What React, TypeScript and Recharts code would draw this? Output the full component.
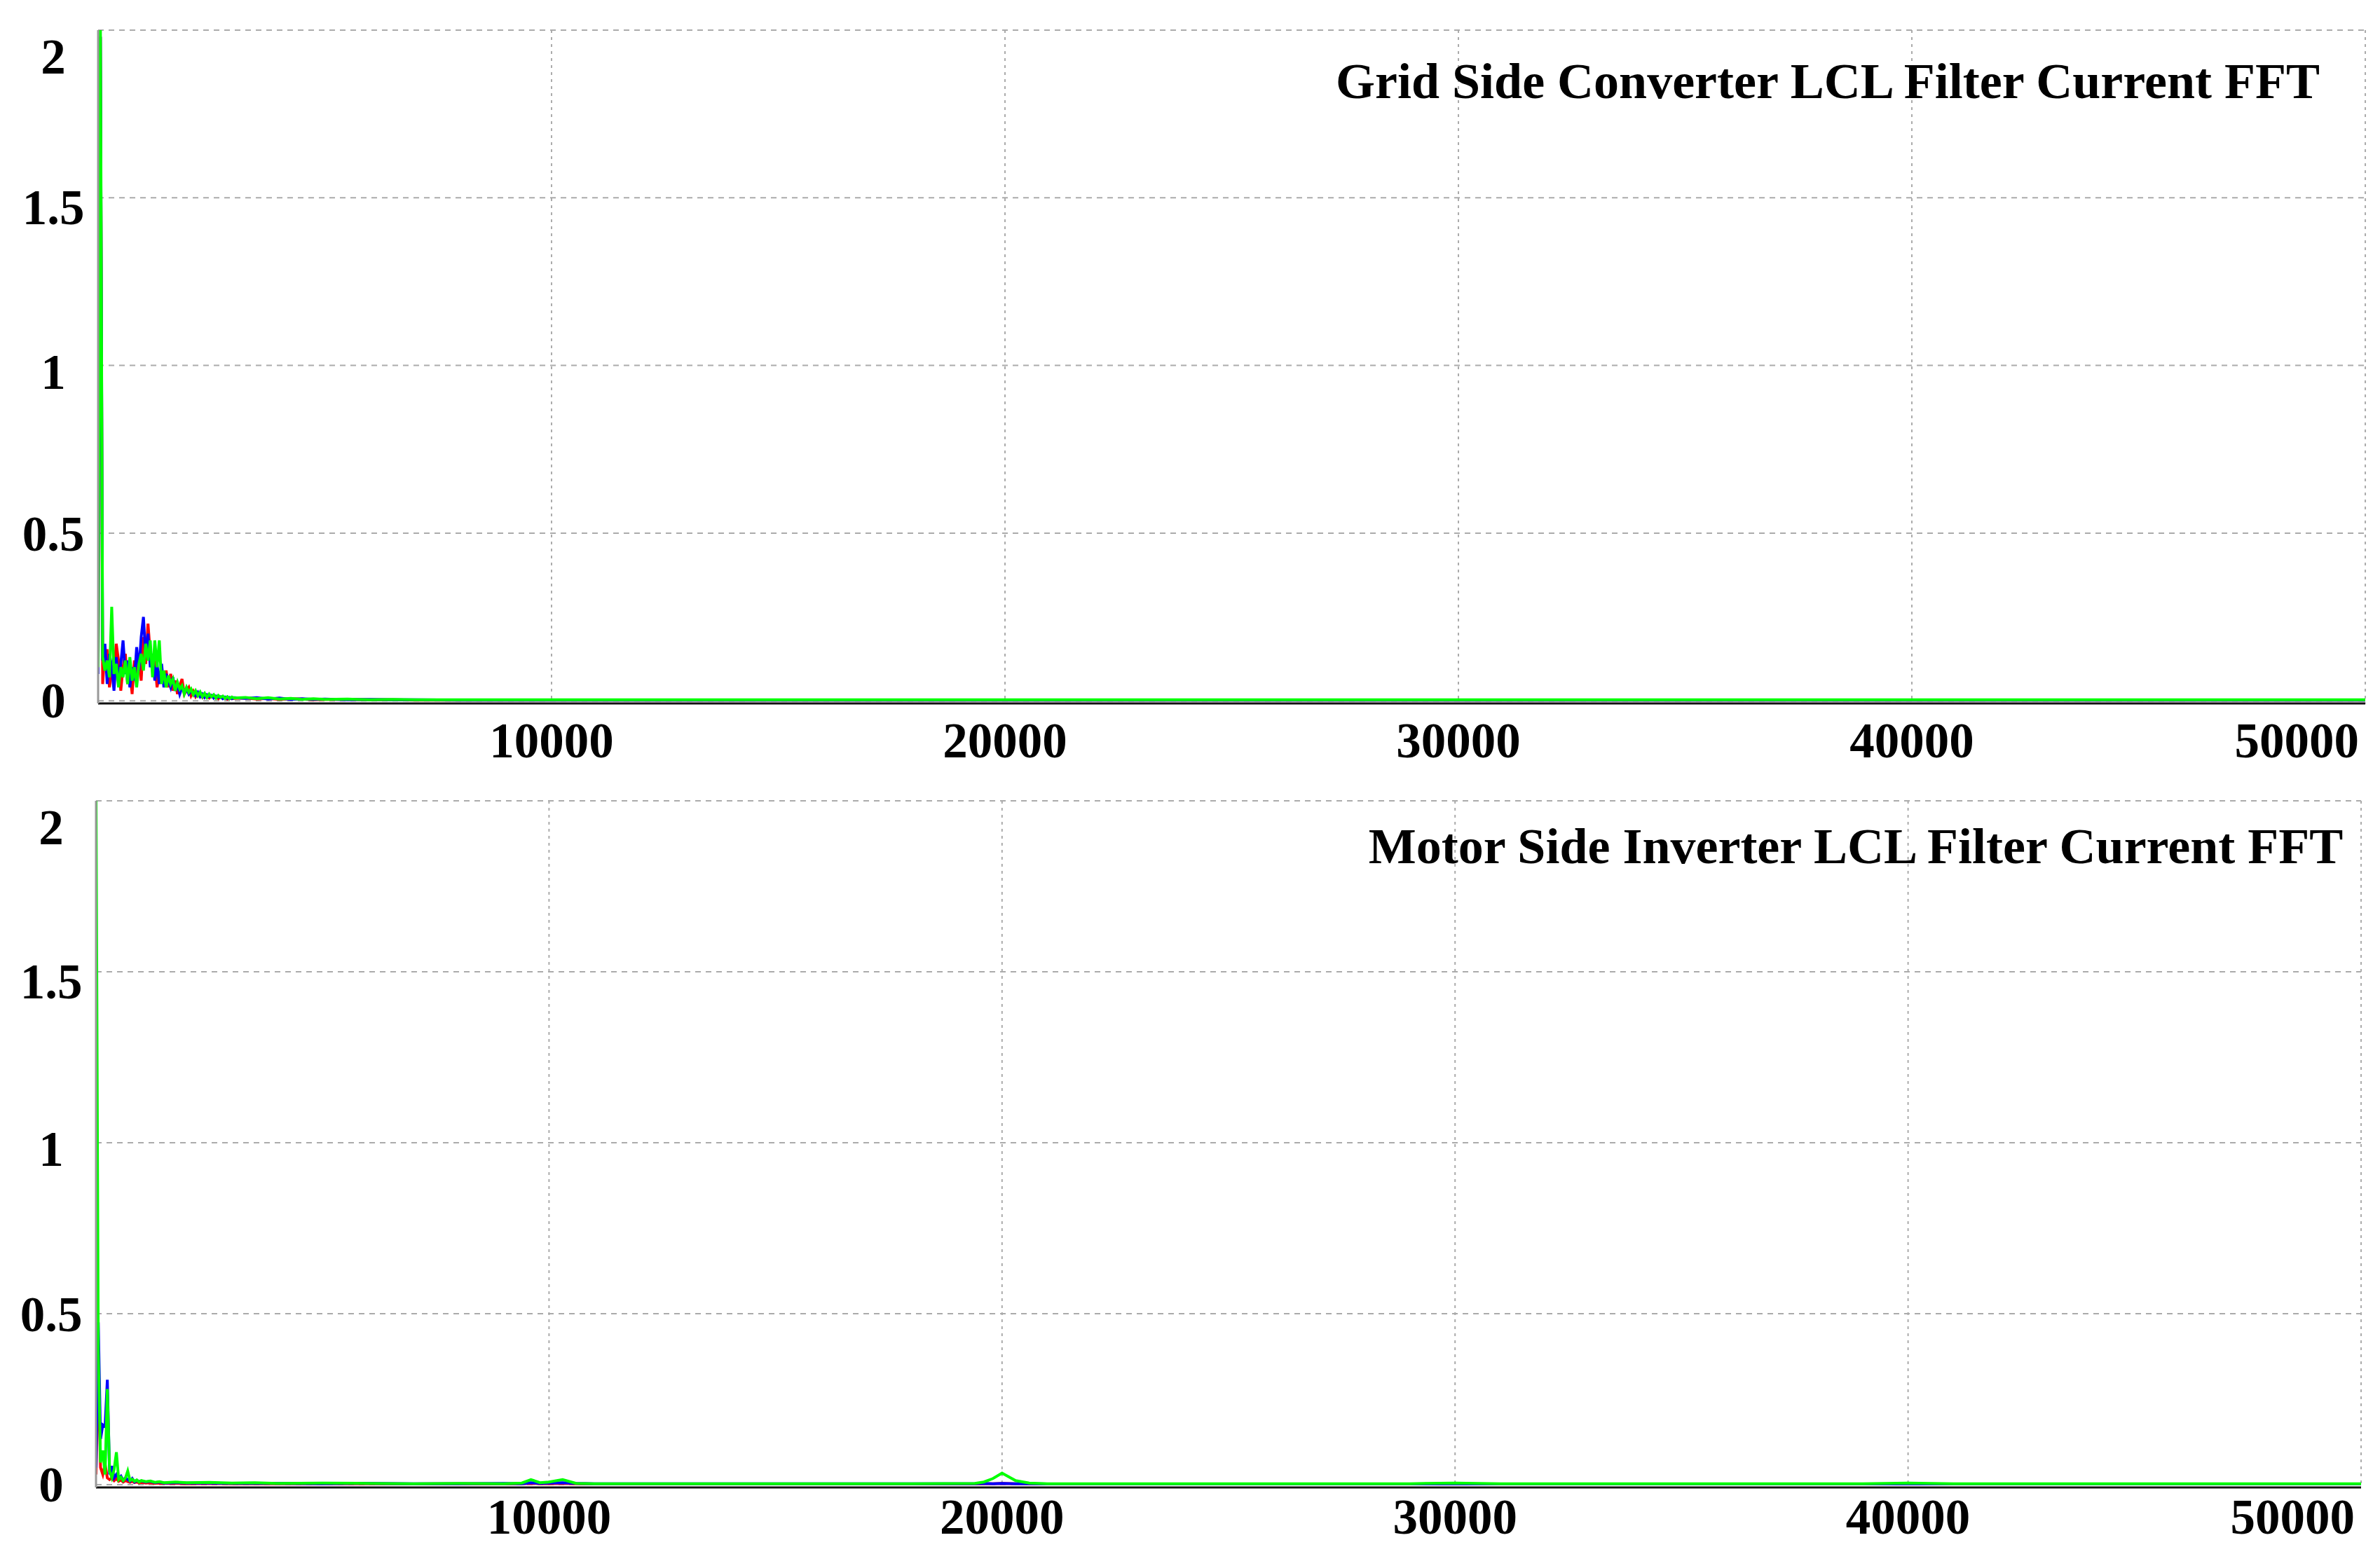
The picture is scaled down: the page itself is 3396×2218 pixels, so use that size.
import React from 'react';
import { LineChart, Line, XAxis, YAxis, CartesianGrid } from 'recharts';

// ---------- data ----------
const titles = [
  'Grid Side Converter LCL Filter Current FFT',
  'Motor Side Inverter LCL Filter Current FFT',
];

const xTicks = [10000, 20000, 30000, 40000, 50000];
const xTickLabels = ['10000', '20000', '30000', '40000', '50000'];
const yTicks = [0, 0.5, 1, 1.5, 2];
const yTickLabels = ['0', '0.5', '1', '1.5', '2'];

// Grid side converter (top panel)
const gridFreq = [
  0, 50, 100, 150, 200, 250, 300, 350, 400, 450,
  500, 550, 600, 650, 700, 750, 800, 850, 900, 950,
  1000, 1050, 1100, 1150, 1200, 1250, 1300, 1350, 1400, 1450,
  1500, 1550, 1600, 1650, 1700, 1750, 1800, 1850, 1900, 1950,
  2000, 2050, 2100, 2150, 2200, 2250, 2300, 2350, 2400, 2450,
  2500, 2550, 2600, 2650, 2700, 2750, 2800, 2850, 2900, 2950,
  3000, 3250, 3500, 3750, 4000, 4250, 4500, 4750, 5000, 5500,
  6000, 6500, 7000, 8000, 9000, 10000, 15000, 20000, 25000, 30000,
  35000, 40000, 45000, 50000,
];
const gridPhaseA = [
  0.12, 1.98, 0.05, 0.15, 0.15, 0.04, 0.09, 0.07, 0.17, 0.12,
  0.03, 0.10, 0.14, 0.05, 0.09, 0.02, 0.12, 0.07, 0.13, 0.06,
  0.19, 0.11, 0.23, 0.14, 0.09, 0.12, 0.04, 0.08, 0.06, 0.05,
  0.09, 0.04, 0.08, 0.03, 0.06, 0.02, 0.045, 0.065, 0.02, 0.03,
  0.04, 0.015, 0.028, 0.012, 0.022, 0.018, 0.01, 0.02, 0.012, 0.008,
  0.015, 0.01, 0.012, 0.006, 0.011, 0.008, 0.009, 0.005, 0.008, 0.006,
  0.007, 0.008, 0.005, 0.007, 0.004, 0.006, 0.005, 0.003, 0.004, 0.004,
  0.003, 0.003, 0.002, 0.002, 0.002, 0.002, 0.002, 0.002, 0.002, 0.002,
  0.002, 0.002, 0.002, 0.002,
];
const gridPhaseB = [
  0.08, 1.98, 0.12, 0.17, 0.05, 0.14, 0.10, 0.03, 0.13, 0.06,
  0.11, 0.18, 0.08, 0.12, 0.04, 0.10, 0.06, 0.16, 0.09, 0.19,
  0.25, 0.13, 0.20, 0.10, 0.14, 0.06, 0.11, 0.05, 0.11, 0.04,
  0.08, 0.06, 0.04, 0.07, 0.03, 0.05, 0.02, 0.04, 0.03, 0.035,
  0.02, 0.03, 0.022, 0.015, 0.025, 0.012, 0.02, 0.01, 0.018, 0.012,
  0.016, 0.008, 0.014, 0.01, 0.012, 0.006, 0.011, 0.007, 0.01, 0.006,
  0.009, 0.007, 0.009, 0.005, 0.008, 0.004, 0.006, 0.004, 0.005, 0.003,
  0.004, 0.003, 0.003, 0.002, 0.002, 0.002, 0.002, 0.002, 0.002, 0.002,
  0.002, 0.002, 0.002, 0.002,
];
const gridPhaseC = [
  0.10, 2.05, 0.13, 0.09, 0.12, 0.07, 0.28, 0.08, 0.11, 0.04,
  0.10, 0.07, 0.12, 0.05, 0.13, 0.06, 0.10, 0.04, 0.11, 0.14,
  0.09, 0.17, 0.12, 0.18, 0.07, 0.18, 0.10, 0.18, 0.05, 0.09,
  0.04, 0.075, 0.05, 0.065, 0.03, 0.055, 0.035, 0.045, 0.02, 0.04,
  0.025, 0.035, 0.018, 0.03, 0.015, 0.026, 0.012, 0.022, 0.01, 0.02,
  0.012, 0.018, 0.008, 0.016, 0.01, 0.014, 0.007, 0.012, 0.006, 0.011,
  0.008, 0.01, 0.006, 0.009, 0.005, 0.007, 0.004, 0.006, 0.004, 0.005,
  0.003, 0.004, 0.003, 0.003, 0.003, 0.003, 0.003, 0.003, 0.003, 0.003,
  0.003, 0.003, 0.003, 0.003,
];

// Motor side inverter (bottom panel)
const motorFreq = [
  0, 50, 100, 150, 200, 250, 300, 350, 400, 450,
  500, 550, 600, 650, 700, 750, 800, 850, 900, 950,
  1000, 1100, 1200, 1300, 1400, 1500, 1750, 2000, 2500, 3000,
  3500, 4000, 5000, 6000, 7000, 8000, 9000, 9400, 9600, 9800,
  10000, 10300, 10600, 11000, 12000, 14000, 16000, 18000, 19400, 19600,
  19800, 20000, 20300, 20600, 21000, 23000, 26000, 29000, 30000, 31000,
  34000, 37000, 39000, 40000, 41000, 44000, 47000, 50000,
];
const motorPhaseA = [
  0.03, 0.35, 0.05, 0.03, 0.06, 0.02, 0.015, 0.02, 0.012, 0.018,
  0.01, 0.014, 0.008, 0.012, 0.009, 0.007, 0.01, 0.006, 0.008, 0.005,
  0.007, 0.005, 0.006, 0.004, 0.005, 0.004, 0.004, 0.003, 0.004, 0.003,
  0.003, 0.003, 0.003, 0.003, 0.002, 0.003, 0.002, 0.003, 0.004, 0.003,
  0.003, 0.004, 0.003, 0.002, 0.002, 0.002, 0.002, 0.002, 0.002, 0.003,
  0.003, 0.004, 0.003, 0.002, 0.002, 0.002, 0.002, 0.002, 0.002, 0.002,
  0.002, 0.002, 0.002, 0.002, 0.002, 0.002, 0.002, 0.002,
];
const motorPhaseB = [
  0.05, 0.475, 0.134, 0.175, 0.17, 0.307, 0.03, 0.055, 0.02, 0.03,
  0.02, 0.025, 0.012, 0.02, 0.015, 0.01, 0.018, 0.008, 0.012, 0.01,
  0.011, 0.008, 0.01, 0.006, 0.008, 0.005, 0.006, 0.005, 0.005, 0.004,
  0.004, 0.004, 0.003, 0.004, 0.003, 0.003, 0.004, 0.003, 0.006, 0.004,
  0.005, 0.006, 0.004, 0.003, 0.003, 0.003, 0.003, 0.003, 0.003, 0.004,
  0.003, 0.004, 0.003, 0.003, 0.002, 0.002, 0.002, 0.002, 0.002, 0.002,
  0.002, 0.002, 0.002, 0.002, 0.002, 0.002, 0.002, 0.002,
];
const motorPhaseC = [
  2.05, 0.39, 0.065, 0.10, 0.03, 0.28, 0.04, 0.02, 0.045, 0.095,
  0.015, 0.022, 0.012, 0.02, 0.04, 0.012, 0.016, 0.01, 0.014, 0.008,
  0.012, 0.009, 0.011, 0.007, 0.009, 0.006, 0.008, 0.006, 0.007, 0.005,
  0.006, 0.004, 0.005, 0.004, 0.003, 0.004, 0.003, 0.005, 0.015, 0.006,
  0.008, 0.015, 0.004, 0.003, 0.003, 0.003, 0.003, 0.003, 0.004, 0.008,
  0.018, 0.034, 0.012, 0.005, 0.003, 0.003, 0.003, 0.003, 0.005, 0.003,
  0.003, 0.003, 0.003, 0.005, 0.003, 0.003, 0.003, 0.003,
];

// ---------- rendering ----------
const FONT = "'Liberation Serif', 'Times New Roman', serif";
const Y_LABEL_SHIFT = [0, 1, 9, 14, 38];

function makeYTick(plotLeft: number) {
  return (props: any) => {
    const { y, payload } = props;
    const i = yTicks.indexOf(payload.value);
    if (i < 0) return <g />;
    return (
      <text
        x={plotLeft - 64}
        y={y + Y_LABEL_SHIFT[i] + 24}
        textAnchor="middle"
        fontFamily={FONT}
        fontWeight="bold"
        fontSize={71}
        fill="#000"
      >
        {yTickLabels[i]}
      </text>
    );
  };
}

function makeXTick(plotRight: number, baseline: number) {
  return (props: any) => {
    const { x, payload } = props;
    const i = xTicks.indexOf(payload.value);
    if (i < 0) return <g />;
    const atEnd = x + 88 > plotRight - 8;
    return (
      <text
        x={atEnd ? plotRight - 9 : x}
        y={baseline}
        textAnchor={atEnd ? 'end' : 'middle'}
        fontFamily={FONT}
        fontWeight="bold"
        fontSize={71}
        fill="#000"
      >
        {xTickLabels[i]}
      </text>
    );
  };
}

type PanelProps = {
  freq: number[];
  a: number[];
  b: number[];
  c: number[];
  width: number;
  height: number;
  plotLeft: number;
  plotRight: number;
  plotTop: number;
  plotBottom: number;
  xLabelBaseline: number;
};

function Panel(p: PanelProps) {
  const rows = p.freq.map((f, i) => ({ f, a: p.a[i], b: p.b[i], c: p.c[i] }));
  const xAxisHeight = p.height - p.plotBottom;
  return (
    <LineChart
      width={p.width}
      height={p.height}
      data={rows}
      margin={{ top: p.plotTop, right: p.width - p.plotRight, bottom: 0, left: 0 }}
    >
      <CartesianGrid horizontal vertical={false} stroke="#ababab" strokeWidth={2} strokeDasharray="8 7" />
      <CartesianGrid horizontal={false} vertical stroke="#ababab" strokeWidth={2} strokeDasharray="4 6" />
      <XAxis
        dataKey="f"
        type="number"
        domain={[0, 50000]}
        ticks={xTicks}
        interval={0}
        height={xAxisHeight}
        tickLine={false}
        allowDataOverflow
        axisLine={{ stroke: '#111', strokeWidth: 3 }}
        tick={makeXTick(p.plotRight, p.xLabelBaseline)}
      />
      <XAxis
        xAxisId="top"
        orientation="top"
        dataKey="f"
        type="number"
        domain={[0, 50000]}
        height={0}
        tick={false}
        tickLine={false}
        axisLine={{ stroke: '#222', strokeWidth: 2 }}
      />
      <YAxis
        type="number"
        domain={[-0.008, 2]}
        ticks={yTicks}
        interval={0}
        width={p.plotLeft}
        tickLine={false}
        allowDataOverflow
        axisLine={{ stroke: '#999', strokeWidth: 3 }}
        tick={makeYTick(p.plotLeft)}
      />
      <YAxis
        yAxisId="right"
        orientation="right"
        type="number"
        domain={[0, 2]}
        width={0}
        tick={false}
        tickLine={false}
        axisLine={{ stroke: '#333', strokeWidth: 3 }}
      />
      <Line dataKey="a" type="linear" stroke="#ff0000" strokeWidth={4} dot={false} activeDot={false} isAnimationActive={false} />
      <Line dataKey="b" type="linear" stroke="#0000ff" strokeWidth={4} dot={false} activeDot={false} isAnimationActive={false} />
      <Line dataKey="c" type="linear" stroke="#00ff00" strokeWidth={4} dot={false} activeDot={false} isAnimationActive={false} />
    </LineChart>
  );
}

export default function App() {
  return (
    <div style={{ position: 'absolute', left: 0, top: 0, width: 3396, height: 2218, background: '#fff', overflow: 'hidden' }}>
      <div style={{ position: 'absolute', left: 0, top: 0 }}>
        <Panel
          freq={gridFreq}
          a={gridPhaseA}
          b={gridPhaseB}
          c={gridPhaseC}
          width={3396}
          height={1110}
          plotLeft={140}
          plotRight={3375}
          plotTop={43}
          plotBottom={1004}
          xLabelBaseline={1081}
        />
      </div>
      <div style={{ position: 'absolute', left: 0, top: 1110 }}>
        <Panel
          freq={motorFreq}
          a={motorPhaseA}
          b={motorPhaseB}
          c={motorPhaseC}
          width={3396}
          height={1108}
          plotLeft={137}
          plotRight={3369}
          plotTop={33}
          plotBottom={1013}
          xLabelBaseline={1079}
        />
      </div>
      <svg
        width={3396}
        height={2218}
        style={{ position: 'absolute', left: 0, top: 0, pointerEvents: 'none' }}
      >
        <text x={2608} y={140} textAnchor="middle" fontFamily={FONT} fontWeight="bold" fontSize={72} fill="#000">
          {titles[0]}
        </text>
        <text x={2648} y={1232} textAnchor="middle" fontFamily={FONT} fontWeight="bold" fontSize={72} fill="#000">
          {titles[1]}
        </text>
      </svg>
    </div>
  );
}
